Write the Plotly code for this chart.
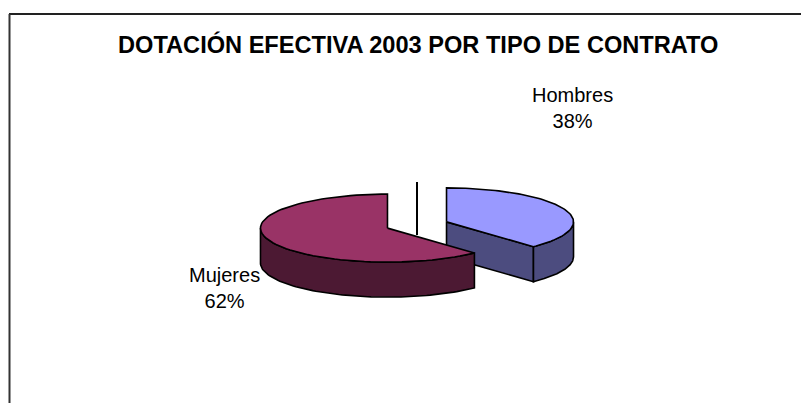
import numpy as np
import plotly.graph_objects as go

# ---- data ----
labels = ["Hombres", "Mujeres"]
values = [38, 62]
title = "DOTACIÓN EFECTIVA 2003 POR TIPO DE CONTRATO"

# ---- style ----
top_colors = ["#9999FF", "#993366"]
side_colors = ["#4C4C7F", "#4C1933"]
FONT = "Liberation Sans, Arial, sans-serif"

W, H = 809, 403
PAGE_OFF = 8               # default body margin of the html page
CX, CY = 417, 225          # pie centre (pixel space)
RX, RY = 127, 34           # ellipse radii of the tilted pie
DEPTH = 35                 # pie thickness
EXPLODE = 0.25             # explosion fraction of radius
START = 90.0               # first slice starts at 12 o'clock, clockwise
label_pos = {"Hombres": (572, 108), "Mujeres": (224, 288)}

total = float(sum(values))
fig = go.Figure()


def pt(cx, cy, t, dz=0.0):
    r = np.radians(t)
    return cx + RX * np.cos(r), cy - RY * np.sin(r) + dz


def arc(cx, cy, a, b, dz=0.0, n=80):
    ts = np.linspace(a, b, n)
    xs, ys = pt(cx, cy, ts, dz)
    return list(xs), list(ys)


def poly(xs, ys, color):
    fig.add_trace(go.Scatter(
        x=xs + [xs[0]], y=ys + [ys[0]], mode="lines", fill="toself",
        fillcolor=color, line=dict(color="black", width=1.6),
        hoverinfo="skip", showlegend=False))


cum = 0.0
for lab, v, tc, sc in zip(labels, values, top_colors, side_colors):
    hi = START - cum / total * 360.0
    cum += v
    lo = START - cum / total * 360.0
    mid = (lo + hi) / 2.0
    cx = CX + EXPLODE * RX * np.cos(np.radians(mid))
    cy = CY - EXPLODE * RY * np.sin(np.radians(mid))

    # radial walls facing the viewer
    for ang, normal in ((lo, lo - 90.0), (hi, hi + 90.0)):
        if np.sin(np.radians(normal)) < -1e-6:
            px, py = pt(cx, cy, ang)
            poly([cx, px, px, cx], [cy, py, py + DEPTH, cy + DEPTH], sc)

    # outer curved wall (front half only)
    for k in range(-2, 2):
        a = max(lo, -180.0 + 360.0 * k)
        b = min(hi, 0.0 + 360.0 * k)
        if b > a:
            tx, ty = arc(cx, cy, a, b)
            bx, by = arc(cx, cy, b, a, DEPTH)
            poly(tx + bx, ty + by, sc)

    # top face
    ax, ay = arc(cx, cy, lo, hi)
    poly([cx] + ax, [cy] + ay, tc)

    # data label
    lx, ly = label_pos[lab]
    fig.add_annotation(x=lx, y=ly, text=f"{lab}<br>{round(100 * v / total)}%",
                       showarrow=False, xanchor="center", yanchor="middle",
                       font=dict(family=FONT, size=20, color="black"))

# thin vertical edge left between the exploded slices
fig.add_shape(type="line", x0=CX, x1=CX, y0=CY - RY - 9, y1=CY + 10,
              line=dict(color="black", width=2))

# chart frame (top & left edges visible)
fig.add_shape(type="line", x0=9, x1=W + 20, y0=14, y1=14,
              line=dict(color="#222222", width=2))
fig.add_shape(type="line", x0=9.5, x1=9.5, y0=14, y1=H + 20,
              line=dict(color="#333333", width=2))

fig.add_annotation(x=417.5, y=44, text=f"<b>{title}</b>", showarrow=False,
                   xanchor="center", yanchor="middle",
                   font=dict(family=FONT, size=23.6, color="black"))

fig.update_layout(
    width=W, height=H, margin=dict(l=0, r=0, t=0, b=0),
    paper_bgcolor="white", plot_bgcolor="white", showlegend=False,
    xaxis=dict(range=[PAGE_OFF, W + PAGE_OFF], visible=False, fixedrange=True),
    yaxis=dict(range=[H + PAGE_OFF, PAGE_OFF], visible=False, fixedrange=True),
)

fig.write_html("out.html")
